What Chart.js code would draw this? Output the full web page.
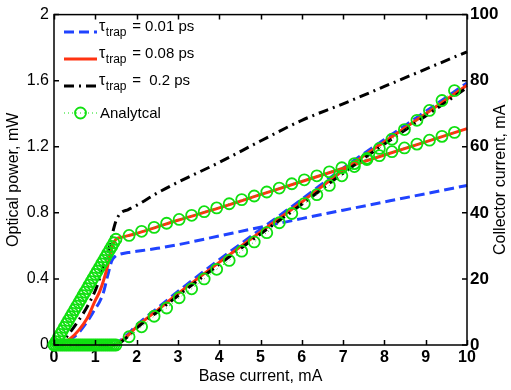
<!DOCTYPE html>
<html>
<head>
<meta charset="utf-8">
<script src="https://cdn.jsdelivr.net/npm/chart.js@4/dist/chart.umd.min.js"></script>
<style>
html,body{margin:0;padding:0;background:#fff;}
#wrap{width:511px;height:390px;position:relative;}
</style>
</head>
<body>
<div id="wrap"><canvas id="c" width="511" height="390"></canvas></div>
<script>
// ---------- data ----------
const baseCurrentSim = [0,0.2,0.4,0.6,0.8,1.0,1.1,1.2,1.3,1.4,1.5,1.6,1.8,2,2.5,3,4,5,6,7,8,9,10];
const powerTrap001 = [0,0.008,0.035,0.075,0.14,0.22,0.26,0.32,0.42,0.51,0.54,0.55,0.56,0.567,0.585,0.607,0.66,0.713,0.765,0.816,0.866,0.916,0.966];
const powerTrap008 = [0,0.01,0.04,0.09,0.16,0.27,0.32,0.39,0.48,0.59,0.64,0.65,0.662,0.675,0.715,0.755,0.83,0.91,0.99,1.07,1.15,1.23,1.31];
const powerTrap02  = [0,0.02,0.08,0.15,0.23,0.33,0.40,0.48,0.56,0.66,0.75,0.795,0.82,0.845,0.92,0.985,1.105,1.235,1.36,1.46,1.565,1.67,1.775];
const collectorTrap001 = [0,0,0,0,0,0,0,0,0,0,0.3,1.3,3.4,6.0,11.1,16.2,25.8,35.0,44.1,53.5,62.2,70.7,79.3];
const collectorTrap008 = [0,0,0,0,0,0,0,0,0,0,0.2,1.0,3.0,5.5,10.5,15.5,25.0,34.2,43.3,52.8,61.5,70.0,78.6];
const collectorTrap02  = [0,0,0,0,0,0,0,0,0,0,0.1,0.7,2.7,5.1,10.0,14.9,24.4,33.6,42.6,52.0,60.8,69.3,77.9];

const analyticCurrent = [0,0.05,0.1,0.15,0.2,0.25,0.3,0.35,0.4,0.45,0.5,0.55,0.6,0.65,0.7,0.75,0.8,0.85,0.9,0.95,1.0,1.05,1.1,1.15,1.2,1.25,1.3,1.35,1.4,1.45,1.5,
  1.818,2.121,2.424,2.727,3.030,3.333,3.636,3.939,4.242,4.545,4.848,5.152,5.455,5.758,6.061,6.364,6.667,6.970,7.273,7.576,7.879,8.182,8.485,8.788,9.091,9.394,9.697];
const analyticPower = [0,0.021,0.043,0.064,0.085,0.107,0.128,0.149,0.171,0.192,0.213,0.235,0.256,0.277,0.299,0.32,0.341,0.363,0.384,0.405,0.427,0.448,0.469,0.491,0.512,0.533,0.555,0.576,0.597,0.619,0.64,
  0.663,0.688,0.712,0.737,0.76,0.785,0.807,0.83,0.855,0.88,0.902,0.926,0.95,0.976,1.0,1.024,1.048,1.073,1.098,1.123,1.146,1.17,1.193,1.216,1.24,1.263,1.287];
const analyticCollector = [0,0,0,0,0,0,0,0,0,0,0,0,0,0,0,0,0,0,0,0,0,0,0,0,0,0,0,0,0,0,0,
  2.5,5.5,8.7,11.2,14.3,17.0,20.0,22.9,25.6,28.4,31.2,34.0,37.0,39.8,42.8,45.5,48.3,51.2,54.0,56.5,59.5,62.3,65.2,68.0,71.0,74.0,77.0];

const xTicks = [0,1,2,3,4,5,6,7,8,9,10];
const powerTicks = [0,0.4,0.8,1.2,1.6,2];
const powerTickLabels = ['0','0.4','0.8','1.2','1.6','2'];
const collectorTicks = [0,20,40,60,80,100];
const legendEntries = [
  {sym:'τ', sub:'trap', rest:' = 0.01 ps'},
  {sym:'τ', sub:'trap', rest:' = 0.08 ps'},
  {sym:'τ', sub:'trap', rest:' =  0.2 ps'},
  {sym:'', sub:'', rest:'Analytcal'}
];
const xTitle = 'Base current, mA';
const yTitle = 'Optical power, mW';
const y2Title = 'Collector current, mA';

// ---------- helpers ----------
const pts = (xs, ys) => xs.map((x, i) => ({x, y: ys[i]}));
const FONT = '"Liberation Sans", Arial, Helvetica, sans-serif';
Chart.defaults.font.family = FONT;

const BLUE = '#2043ff', RED = '#ff3311', BLACK = '#000000', GREEN = '#10e010';
const blueStyle = {borderColor: BLUE, borderWidth: 3, borderDash: [10,5], order: 3};
const redStyle = {borderColor: RED, borderWidth: 3, borderDash: [], order: 2};
const blackStyle = {borderColor: BLACK, borderWidth: 3, borderDash: [10,5,2,5], order: 1};
const greenStyle = {borderColor: GREEN, borderWidth: 1, borderDash: [1,3], order: 0,
  pointRadius: 5.5, pointBorderWidth: 1.8, pointBorderColor: GREEN, pointBackgroundColor: 'rgba(0,0,0,0)'};

const simBase = {pointRadius: 0, fill: false, cubicInterpolationMode: 'monotone', clip: false};

const datasets = [
  Object.assign({}, simBase, blueStyle, {label: 'p001', yAxisID: 'y', data: pts(baseCurrentSim, powerTrap001)}),
  Object.assign({}, simBase, blueStyle, {label: 'c001', yAxisID: 'y2', data: pts(baseCurrentSim, collectorTrap001)}),
  Object.assign({}, simBase, redStyle, {label: 'p008', yAxisID: 'y', data: pts(baseCurrentSim, powerTrap008)}),
  Object.assign({}, simBase, redStyle, {label: 'c008', yAxisID: 'y2', data: pts(baseCurrentSim, collectorTrap008)}),
  Object.assign({}, simBase, blackStyle, {label: 'p02', yAxisID: 'y', data: pts(baseCurrentSim, powerTrap02)}),
  Object.assign({}, simBase, blackStyle, {label: 'c02', yAxisID: 'y2', data: pts(baseCurrentSim, collectorTrap02)}),
  Object.assign({fill: false, clip: false, tension: 0}, greenStyle, {label: 'pa', yAxisID: 'y', data: pts(analyticCurrent, analyticPower)}),
  Object.assign({fill: false, clip: false, tension: 0}, greenStyle, {label: 'ca', yAxisID: 'y2', data: pts(analyticCurrent, analyticCollector)})
];
const legendStyles = [blueStyle, redStyle, blackStyle, greenStyle];

// ---------- plugins ----------
const framePlugin = {
  id: 'frame',
  afterDatasetsDraw(chart) {
    const {ctx, chartArea: a, scales} = chart;
    ctx.save();
    ctx.strokeStyle = '#000';
    ctx.lineWidth = 1.5;
    ctx.setLineDash([]);
    ctx.strokeRect(a.left, a.top, a.right - a.left, a.bottom - a.top);
    const L = 5;
    ctx.beginPath();
    xTicks.forEach(v => {
      const px = Math.round(scales.x.getPixelForValue(v)) + 0.5;
      ctx.moveTo(px, a.bottom); ctx.lineTo(px, a.bottom - L);
      ctx.moveTo(px, a.top); ctx.lineTo(px, a.top + L);
    });
    powerTicks.forEach(v => {
      const py = scales.y.getPixelForValue(v);
      ctx.moveTo(a.left, py); ctx.lineTo(a.left + L, py);
    });
    collectorTicks.forEach(v => {
      const py = scales.y2.getPixelForValue(v);
      ctx.moveTo(a.right, py); ctx.lineTo(a.right - L, py);
    });
    ctx.stroke();
    // right axis title (reads bottom-to-top)
    ctx.fillStyle = '#000';
    ctx.font = '16px ' + FONT;
    ctx.textAlign = 'center';
    ctx.textBaseline = 'middle';
    ctx.translate(501, (a.top + a.bottom) / 2);
    ctx.rotate(-Math.PI / 2);
    ctx.fillText(y2Title, 0, 0);
    ctx.restore();
  }
};

const legendPlugin = {
  id: 'customLegend',
  afterDraw(chart) {
    const ctx = chart.ctx;
    const x0 = 64, x1 = 97, tx = 99;
    legendEntries.forEach((e, i) => {
      const st = legendStyles[i];
      const y = 32 + i * 27;
      ctx.save();
      ctx.strokeStyle = st.borderColor;
      ctx.lineWidth = st.borderWidth;
      ctx.setLineDash(st.borderDash);
      ctx.beginPath(); ctx.moveTo(x0, y); ctx.lineTo(x1, y); ctx.stroke();
      if (st.pointRadius) {
        ctx.setLineDash([]);
        ctx.lineWidth = st.pointBorderWidth;
        ctx.strokeStyle = st.pointBorderColor;
        ctx.beginPath(); ctx.arc((x0 + x1) / 2, y, st.pointRadius, 0, Math.PI * 2); ctx.stroke();
      }
      ctx.fillStyle = '#000';
      ctx.textAlign = 'left';
      ctx.textBaseline = 'alphabetic';
      let x = tx;
      if (e.sym) {
        ctx.font = '16px ' + FONT;
        ctx.fillText(e.sym, x, y - 1);
        x += ctx.measureText(e.sym).width + 0.5;
        ctx.font = '12px ' + FONT;
        ctx.fillText(e.sub, x, y + 4);
        x += ctx.measureText(e.sub).width + 1.5;
        ctx.font = '15px ' + FONT;
        ctx.fillText(e.rest, x, y - 1);
      } else {
        ctx.font = '15px ' + FONT;
        ctx.fillText(e.rest, x + 1, y + 5);
      }
      ctx.restore();
    });
  }
};

// ---------- chart ----------
new Chart(document.getElementById('c'), {
  type: 'line',
  data: {datasets},
  options: {
    responsive: false,
    animation: false,
    layout: {padding: {top: 10, left: 0, right: 0, bottom: 0}},
    plugins: {legend: {display: false}, tooltip: {enabled: false}},
    scales: {
      x: {
        type: 'linear', position: 'bottom', min: 0, max: 10,
        afterBuildTicks: s => { s.ticks = xTicks.map(v => ({value: v})); },
        afterFit: s => { s.height = 45; },
        grid: {display: false, drawTicks: false},
        border: {display: false},
        ticks: {color: '#000', font: {size: 16, weight: 'bold'}, padding: 3, maxRotation: 0, autoSkip: false,
          callback: (v) => String(v)},
        title: {display: true, text: xTitle, color: '#000', font: {size: 16}, padding: {top: 0, bottom: 4}}
      },
      y: {
        type: 'linear', position: 'left', min: 0, max: 2,
        afterBuildTicks: s => { s.ticks = powerTicks.map(v => ({value: v})); },
        afterFit: s => { s.width = 54; },
        grid: {display: false, drawTicks: false},
        border: {display: false},
        ticks: {color: '#000', font: {size: 16}, padding: 5, autoSkip: false,
          callback: (v, i) => powerTickLabels[i]},
        title: {display: true, text: yTitle, color: '#000', font: {size: 16}, padding: {top: 4, bottom: 0}}
      },
      y2: {
        type: 'linear', position: 'right', min: 0, max: 100,
        afterBuildTicks: s => { s.ticks = collectorTicks.map(v => ({value: v})); },
        afterFit: s => { s.width = 44; },
        grid: {display: false, drawTicks: false, drawOnChartArea: false},
        border: {display: false},
        ticks: {color: '#000', font: {size: 17, weight: 'bold'}, padding: 3, autoSkip: false,
          callback: (v) => String(v)},
        title: {display: false}
      }
    }
  },
  plugins: [framePlugin, legendPlugin]
});
</script>
</body>
</html>
